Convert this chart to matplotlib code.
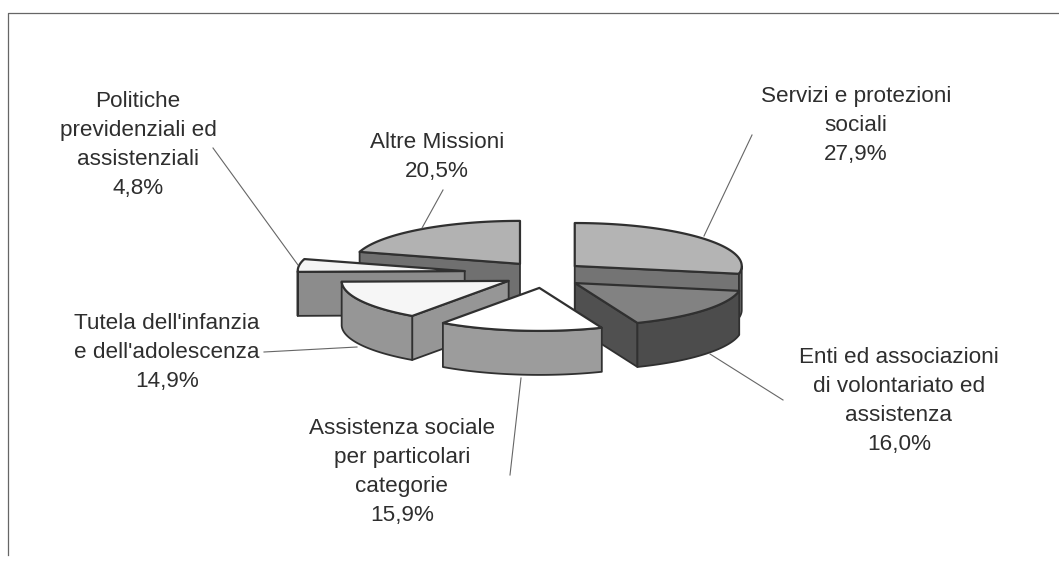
import numpy as np
import matplotlib
matplotlib.use('Agg')
import matplotlib.pyplot as plt
from matplotlib.patches import Polygon

# dati (in senso orario, dalle ore 12)
categorie = ["Servizi e protezioni\nsociali",
             "Enti ed associazioni\ndi volontariato ed\nassistenza",
             "Assistenza sociale\nper particolari\ncategorie",
             "Tutela dell'infanzia\ne dell'adolescenza",
             "Politiche\nprevidenziali ed\nassistenziali",
             "Altre Missioni"]
valori = [27.9, 16.0, 15.9, 14.9, 4.8, 20.5]
etichette_valori = ["27,9%", "16,0%", "15,9%", "14,9%", "4,8%", "20,5%"]

# stile delle fette: sopra, lato esterno, lato interno
col_sopra = ['#b4b4b4', '#828282', '#ffffff', '#f6f6f6', '#f4f4f4', '#b2b2b2']
col_arco = ['#6e6e6e', '#4c4c4c', '#9c9c9c', '#969696', '#8c8c8c', '#6e6e6e']
col_lato = ['#747474', '#505050', '#9c9c9c', '#969696', '#8c8c8c', '#707070']
esplosione = [1, 1, 1, 1, 2, 1]

# geometria della torta in pixel
CX, CY = 544, 274.6
RX, RY = 167, 43
ALTEZZA = 44
ESPL_X, ESPL_Y = 40, 13.4
BORDO = '#303030'
TESTO = '#2e2e2e'

# posizione testi e linee guida
pos_testi = [(856, 125), (899, 401), (402, 472), (167, 352), (138, 145), (437, 157)]
guide = [((704, 236), (752, 135)), ((710, 354), (783, 400)), ((521, 378), (510, 475)),
         ((357, 347), (264, 352)), ((298, 265), (213, 148)), ((422, 228), (443, 190))]

plt.rcParams['font.family'] = ['Liberation Sans', 'DejaVu Sans']

fig = plt.figure(figsize=(10.59, 5.61), dpi=100)
ax = fig.add_axes([0, 0, 1, 1])
ax.set_xlim(0, 1059)
ax.set_ylim(561, 0)
ax.axis('off')

# cornice
ax.plot([8, 8, 1059], [555, 13, 13], color='#666666', lw=0.9)


def punti_arco(x0, y0, a1, a2):
    t = np.radians(np.linspace(a1, a2, 80))
    return x0 + RX * np.sin(t), y0 - RY * np.cos(t)


# calcolo fette
angoli = np.concatenate([[0], np.cumsum(valori) / sum(valori) * 360])
fette = []
for i in range(len(valori)):
    a1, a2 = angoli[i], angoli[i + 1]
    medio = np.radians((a1 + a2) / 2)
    x0 = CX + esplosione[i] * ESPL_X * np.sin(medio)
    y0 = CY - esplosione[i] * ESPL_Y * np.cos(medio)
    fette.append((y0, x0, a1, a2, i))

# dalla fetta piu lontana alla piu vicina
for y0, x0, a1, a2, i in sorted(fette):
    xs, ys = punti_arco(x0, y0, a1, a2)

    # lati interni, solo quelli rivolti verso chi guarda
    lati = []
    if np.sin(np.radians(a1)) < 0:
        lati.append((xs[0], ys[0]))
    if np.sin(np.radians(a2)) > 0:
        lati.append((xs[-1], ys[-1]))
    for xe, ye in lati:
        lato = [(x0, y0), (xe, ye), (xe, ye + ALTEZZA), (x0, y0 + ALTEZZA)]
        ax.add_patch(Polygon(lato, closed=True, fc=col_lato[i], ec=BORDO, lw=1.3, joinstyle='round'))

    # lato esterno, solo la parte davanti
    davanti = ys > y0
    if davanti.sum() > 1:
        xf, yf = xs[davanti], ys[davanti]
        bordo = list(zip(xf, yf)) + list(zip(xf[::-1], yf[::-1] + ALTEZZA))
        ax.add_patch(Polygon(bordo, closed=True, fc=col_arco[i], ec=BORDO, lw=1.3, joinstyle='round'))

    # sopra
    sopra = [(x0, y0)] + list(zip(xs, ys))
    ax.add_patch(Polygon(sopra, closed=True, fc=col_sopra[i], ec=BORDO, lw=1.6, joinstyle='round'))

# linee guida ed etichette
for i in range(len(categorie)):
    (xa, ya), (xb, yb) = guide[i]
    ax.plot([xa, xb], [ya, yb], color='#666666', lw=0.8)
    ax.text(pos_testi[i][0], pos_testi[i][1], categorie[i] + "\n" + etichette_valori[i],
            ha='center', va='center', fontsize=16.2, color=TESTO, linespacing=1.5)

fig.savefig('out.png', dpi=100, facecolor='white')
